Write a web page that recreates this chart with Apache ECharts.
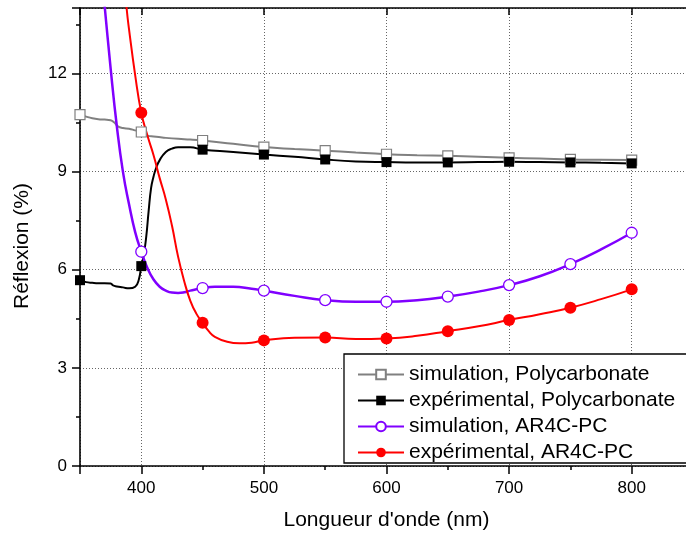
<!DOCTYPE html>
<html>
<head>
<meta charset="utf-8">
<script src="https://cdn.jsdelivr.net/npm/echarts@6/dist/echarts.min.js"></script>
<style>html,body{margin:0;padding:0;background:#fff}#c{width:686px;height:538px}</style>
</head>
<body>
<div id="c"></div>
<script>
// ---- data ----
const seriesNames = ['simulation, Polycarbonate', 'expérimental, Polycarbonate', 'simulation, AR4C-PC', 'expérimental, AR4C-PC'];
const markerWavelengths = [350, 400, 450, 500, 550, 600, 650, 700, 750, 800];

const simPC_x = [350,355,360,365,370,375,378,381,385,390,395,400,405,410,420,430,440,450,475,500,525,550,575,600,625,650,675,700,725,750,775,800];
const simPC_y = [10.74,10.68,10.63,10.6,10.59,10.57,10.5,10.38,10.33,10.31,10.26,10.21,10.1,10.07,10.03,10.0,9.98,9.95,9.85,9.75,9.69,9.64,9.58,9.53,9.5,9.48,9.45,9.42,9.4,9.37,9.36,9.35];

const expPC_x = [350,355,360,365,370,375,377,380,385,390,395,398,400,402,404,406,408,410,412,415,420,425,430,440,450,475,500,525,550,575,600,625,650,675,700,725,750,775,800];
const expPC_y = [5.68,5.62,5.6,5.59,5.59,5.58,5.52,5.49,5.46,5.43,5.48,5.7,6.11,6.45,7.0,7.8,8.5,8.85,9.1,9.35,9.6,9.7,9.74,9.74,9.67,9.6,9.52,9.45,9.37,9.31,9.29,9.28,9.28,9.29,9.3,9.29,9.28,9.27,9.25];

const simAR_x = [362,365,370,375,380,385,390,395,400,405,410,415,420,425,430,435,440,450,460,475,490,500,525,550,575,600,625,650,675,700,725,750,775,800];
const simAR_y = [17.5,16.0,14.1,12.15,10.4,9.0,8.0,7.15,6.55,6.05,5.7,5.48,5.36,5.3,5.29,5.31,5.36,5.44,5.48,5.48,5.42,5.36,5.2,5.07,5.02,5.02,5.07,5.18,5.33,5.53,5.8,6.17,6.62,7.13];

const expAR_x = [385,388,390,395,400,405,410,415,420,425,430,435,440,445,450,455,460,470,480,490,500,525,550,575,600,625,650,675,700,725,750,775,800];
const expAR_y = [15.3,14.0,13.35,11.95,10.8,10.1,9.5,8.8,8.15,7.35,6.4,5.65,5.05,4.65,4.38,4.12,3.95,3.8,3.75,3.77,3.84,3.92,3.93,3.88,3.9,3.98,4.12,4.27,4.46,4.64,4.84,5.1,5.4];

const xTickLabels = [400, 500, 600, 700, 800];
const yTickLabels = [0, 3, 6, 9, 12];

// ---- chart ----
const FONT = 'Liberation Sans, Arial, sans-serif';
function build(xs, ys) {
  return xs.map((x, i) => {
    const item = { value: [x, ys[i]] };
    if (markerWavelengths.indexOf(x) < 0) item.symbol = 'none';
    return item;
  });
}

const chart = echarts.init(document.getElementById('c'), null, { renderer: 'canvas' });

const grid = { left: 80, top: 8, width: 613, height: 458, containLabel: false, outerBoundsMode: 'none' };
const xCommon = { type: 'value', min: 350, max: 850, gridIndex: 0 };
const yCommon = { type: 'value', min: 0, max: 14, gridIndex: 0 };
const axisLine = { show: true, onZero: false, lineStyle: { color: '#000', width: 1.6 } };
const noLine = { show: false };
const gridLine = { show: true, lineStyle: { color: '#666', type: [1, 2], width: 1 } };

const option = {
  backgroundColor: '#fff',
  animation: false,
  grid: grid,
  xAxis: [
    Object.assign({}, xCommon, {
      position: 'bottom', splitNumber: 5,
      name: "Longueur d'onde (nm)", nameLocation: 'middle', nameGap: 44,
      nameTextStyle: { fontFamily: FONT, fontSize: 21, color: '#000' },
      axisLine: axisLine,
      axisTick: { show: true, inside: false, length: 8, lineStyle: { color: '#000', width: 1.5 } },
      axisLabel: { margin: 14, fontFamily: FONT, fontSize: 17, color: '#000',
        formatter: v => xTickLabels.indexOf(v) >= 0 ? String(v) : '' },
      splitLine: gridLine
    }),
    Object.assign({}, xCommon, {
      position: 'bottom', interval: 50,
      axisLine: noLine, axisLabel: { show: false }, splitLine: { show: false },
      axisTick: { show: true, inside: false, length: 4, lineStyle: { color: '#000', width: 1.5 } }
    }),
    Object.assign({}, xCommon, {
      position: 'top', splitNumber: 5,
      axisLine: axisLine, axisLabel: { show: false }, splitLine: { show: false },
      axisTick: { show: true, inside: true, length: 7, lineStyle: { color: '#000', width: 1.5 } }
    }),
    Object.assign({}, xCommon, {
      position: 'top', interval: 50,
      axisLine: noLine, axisLabel: { show: false }, splitLine: { show: false },
      axisTick: { show: true, inside: true, length: 3, lineStyle: { color: '#000', width: 1.5 } }
    })
  ],
  yAxis: [
    Object.assign({}, yCommon, {
      position: 'left', interval: 3,
      name: 'Réflexion (%)', nameLocation: 'middle', nameGap: 47,
      nameTextStyle: { fontFamily: FONT, fontSize: 21, color: '#000', padding: [0, 18, 0, 0] },
      axisLine: axisLine,
      axisTick: { show: true, inside: false, length: 8, lineStyle: { color: '#000', width: 1.5 } },
      axisLabel: { margin: 13, fontFamily: FONT, fontSize: 17, color: '#000',
        formatter: v => yTickLabels.indexOf(v) >= 0 ? String(v) : '' },
      splitLine: gridLine
    }),
    Object.assign({}, yCommon, {
      position: 'left', interval: 1.5,
      axisLine: noLine, axisLabel: { show: false }, splitLine: { show: false },
      axisTick: { show: true, inside: false, length: 4, lineStyle: { color: '#000', width: 1.5 } }
    }),
    Object.assign({}, yCommon, {
      position: 'right', interval: 3,
      axisLine: axisLine, axisLabel: { show: false }, splitLine: { show: false },
      axisTick: { show: true, inside: true, length: 7, lineStyle: { color: '#000', width: 1.5 } }
    }),
    Object.assign({}, yCommon, {
      position: 'right', interval: 1.5,
      axisLine: noLine, axisLabel: { show: false }, splitLine: { show: false },
      axisTick: { show: true, inside: true, length: 3, lineStyle: { color: '#000', width: 1.5 } }
    })
  ],
  legend: {
    orient: 'vertical', left: 357, top: 364, padding: 0,
    itemWidth: 46, itemHeight: 12, itemGap: 5, z: 20,
    textStyle: { fontFamily: FONT, fontSize: 21, color: '#000' },
    data: seriesNames
  },
  graphic: [{
    type: 'rect', z: 15, silent: true,
    shape: { x: 344, y: 354, width: 360, height: 109 },
    style: { fill: '#fff', stroke: '#000', lineWidth: 1.3 }
  }],
  series: [
    {
      name: seriesNames[0], type: 'line', xAxisIndex: 0, yAxisIndex: 0,
      data: build(simPC_x, simPC_y), smooth: 0.5,
      symbol: 'rect', symbolSize: 10,
      lineStyle: { color: '#808080', width: 2 },
      itemStyle: { color: '#fff', borderColor: '#808080', borderWidth: 1.2 }
    },
    {
      name: seriesNames[1], type: 'line', xAxisIndex: 0, yAxisIndex: 0,
      data: build(expPC_x, expPC_y), smooth: 0.5,
      symbol: 'rect', symbolSize: 10,
      lineStyle: { color: '#000', width: 2 },
      itemStyle: { color: '#000', borderColor: '#000', borderWidth: 0 }
    },
    {
      name: seriesNames[2], type: 'line', xAxisIndex: 0, yAxisIndex: 0,
      data: build(simAR_x, simAR_y), smooth: 0.5,
      symbol: 'circle', symbolSize: 11,
      lineStyle: { color: '#8000ff', width: 2.5 },
      itemStyle: { color: '#fff', borderColor: '#8000ff', borderWidth: 1.3 }
    },
    {
      name: seriesNames[3], type: 'line', xAxisIndex: 0, yAxisIndex: 0,
      data: build(expAR_x, expAR_y), smooth: 0.5,
      symbol: 'circle', symbolSize: 12,
      lineStyle: { color: '#ff0000', width: 2 },
      itemStyle: { color: '#ff0000', borderColor: '#ff0000', borderWidth: 0 }
    }
  ]
};
chart.setOption(option);
</script>
</body>
</html>
